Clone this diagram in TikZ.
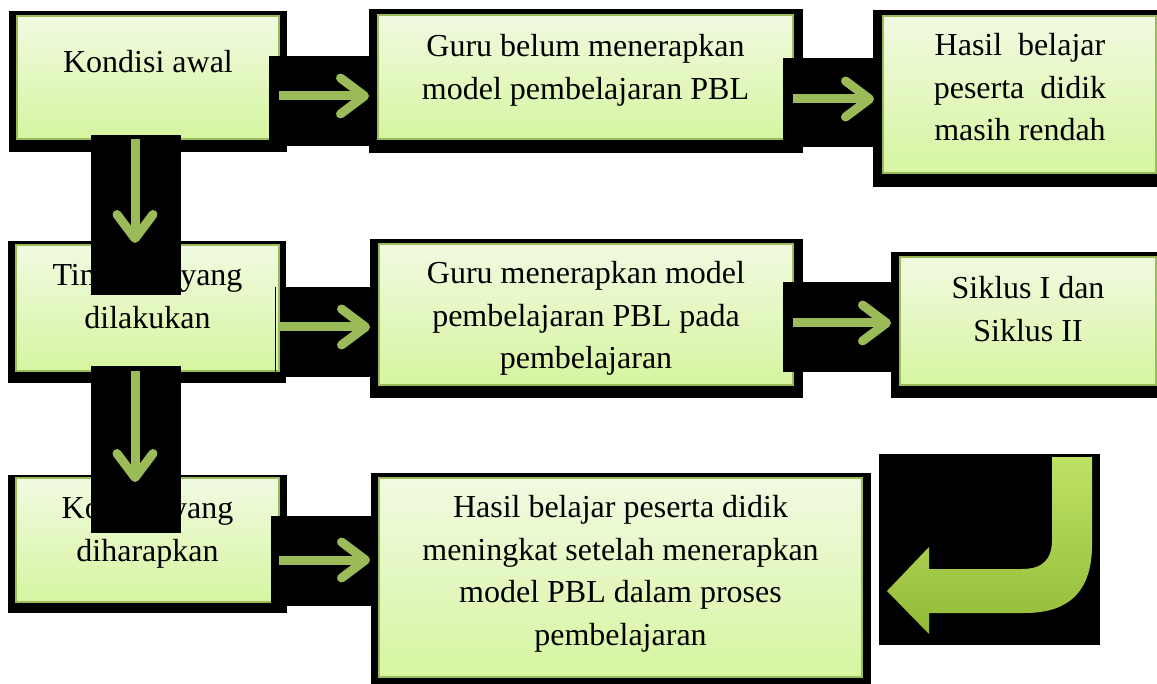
\documentclass[tikz,border=0pt]{standalone}
\usepackage{fontspec}
\setmainfont{Liberation Serif}
\usetikzlibrary{arrows.meta}

\newlength{\du}
\setlength{\du}{0.5pt}

\definecolor{olivegreen}{RGB}{155,187,89}
\definecolor{boxtop}{RGB}{241,250,225}
\definecolor{boxbottom}{RGB}{214,245,160}
\definecolor{bentlight}{RGB}{192,226,100}
\definecolor{bentdark}{RGB}{146,186,56}

\tikzset{
  greenbox/.style={draw=olivegreen, line width=1pt, top color=boxtop, bottom color=boxbottom, inner sep=0pt, outer sep=0pt},
  boxtext/.style={align=center, inner sep=0pt, anchor=north, font=\fontsize{16}{21.3}\selectfont},
  flowarrow/.style={draw=olivegreen, line width=4.5pt, -{Straight Barb[length=12pt,width=18pt,round]}, shorten >=9\du},
}

\begin{document}
\begin{tikzpicture}
\pgftransformxscale{1.000000}
\pgftransformyscale{-1.000000}
\useasboundingbox (0\du,0\du) rectangle (1157\du,684\du);
% black frames behind the boxes
\fill (9\du,11\du) rectangle (287\du,152\du);
\fill (369\du,9\du) rectangle (803\du,153\du);
\fill (873\du,10\du) rectangle (1157\du,187\du);
\fill (8\du,241\du) rectangle (286\du,383\du);
\fill (370\du,239\du) rectangle (803\du,398\du);
\fill (891\du,252\du) rectangle (1157\du,398\du);
\fill (8\du,475\du) rectangle (287\du,613\du);
\fill (371\du,473\du) rectangle (871\du,684\du);
% boxes
\node[greenbox, minimum width=262\du, minimum height=123\du] (k1) at (148\du,77.5\du) {};
\node[greenbox, minimum width=415\du, minimum height=124\du] (k4) at (585.5\du,77\du) {};
\node[greenbox, minimum width=273\du, minimum height=157\du] (k5) at (1019.5\du,94.5\du) {};
\node[greenbox, minimum width=263\du, minimum height=126\du] (k2) at (147.5\du,308\du) {};
\node[greenbox, minimum width=414\du, minimum height=141\du] (k8) at (586\du,314.5\du) {};
\node[greenbox, minimum width=256\du, minimum height=128\du] (k7) at (1028\du,321\du) {};
\node[greenbox, minimum width=263\du, minimum height=124\du] (k3) at (147.5\du,540\du) {};
\node[greenbox, minimum width=483\du, minimum height=199\du] (k6) at (620.5\du,577.5\du) {};
% texts
\node[boxtext] (t1) at (148\du,50\du) {Kondisi awal};
\node[boxtext] (t4) at (585.5\du,34\du) {Guru belum menerapkan\\model pembelajaran PBL};
\node[boxtext] (t5) at (1020\du,33\du) {Hasil\ \ belajar\\peserta\ \ didik\\masih rendah};
\node[boxtext] (t2) at (147.5\du,263\du) {Tindakan yang\\dilakukan};
\node[boxtext] (t8) at (586\du,261\du) {Guru menerapkan model\\pembelajaran PBL pada\\pembelajaran};
\node[boxtext] (t7) at (1028\du,276\du) {Siklus I dan\\Siklus II};
\node[boxtext] (t3) at (147.5\du,496\du) {Kondisi yang\\diharapkan};
\node[boxtext] (t6) at (620.5\du,495\du) {Hasil belajar peserta didik\\meningkat setelah menerapkan\\model PBL dalam proses\\pembelajaran};
% black grounds of the arrows
\fill (269\du,56\du) rectangle (370\du,146\du);
\fill (783\du,58\du) rectangle (873\du,147\du);
\fill (283\du,287\du) rectangle (370\du,377\du);
\fill (274.5\du,287\du) rectangle (276\du,372\du);
\fill (783\du,282\du) rectangle (891\du,372\du);
\fill (271\du,516\du) rectangle (371\du,606\du);
\fill (91\du,135\du) rectangle (181\du,295\du);
\fill (91\du,366\du) rectangle (181\du,533\du);
\fill (879\du,454\du) rectangle (1100\du,645\du);
% lanes of the arrows
\coordinate (r1) at (0\du,96\du);
\coordinate (r2) at (0\du,99\du);
\coordinate (r3) at (0\du,327\du);
\coordinate (r4) at (0\du,323\du);
\coordinate (r5) at (0\du,560\du);
\coordinate (c1) at (135\du,0\du);
\draw[flowarrow] (k1.east |- r1) -- (k4.west |- r1);
\draw[flowarrow] (k4.east |- r2) -- (k5.west |- r2);
\draw[flowarrow] (k2.east |- r3) -- (k8.west |- r3);
\draw[flowarrow] (k8.east |- r4) -- (k7.west |- r4);
\draw[flowarrow] (k3.east |- r5) -- (k6.west |- r5);
\draw[flowarrow, shorten >=2\du] (k1.south -| c1) -- (k2.north -| c1);
\draw[flowarrow, shorten >=-4\du] (k2.south -| c1) -- (k3.north -| c1);
% bent arrow
\shade[top color=bentlight, bottom color=bentdark] (1052\du,457\du) -- (1092\du,457\du) -- (1092\du,545\du)
  .. controls (1092\du,595\du) and (1065\du,613\du) .. (1025\du,613\du) -- (929\du,613\du) -- (929\du,634\du)
  -- (887\du,591\du) -- (929\du,547\du) -- (929\du,569\du) -- (1022\du,569\du)
  .. controls (1042\du,569\du) and (1052\du,560\du) .. (1052\du,540\du) -- cycle;
\end{tikzpicture}
\end{document}
